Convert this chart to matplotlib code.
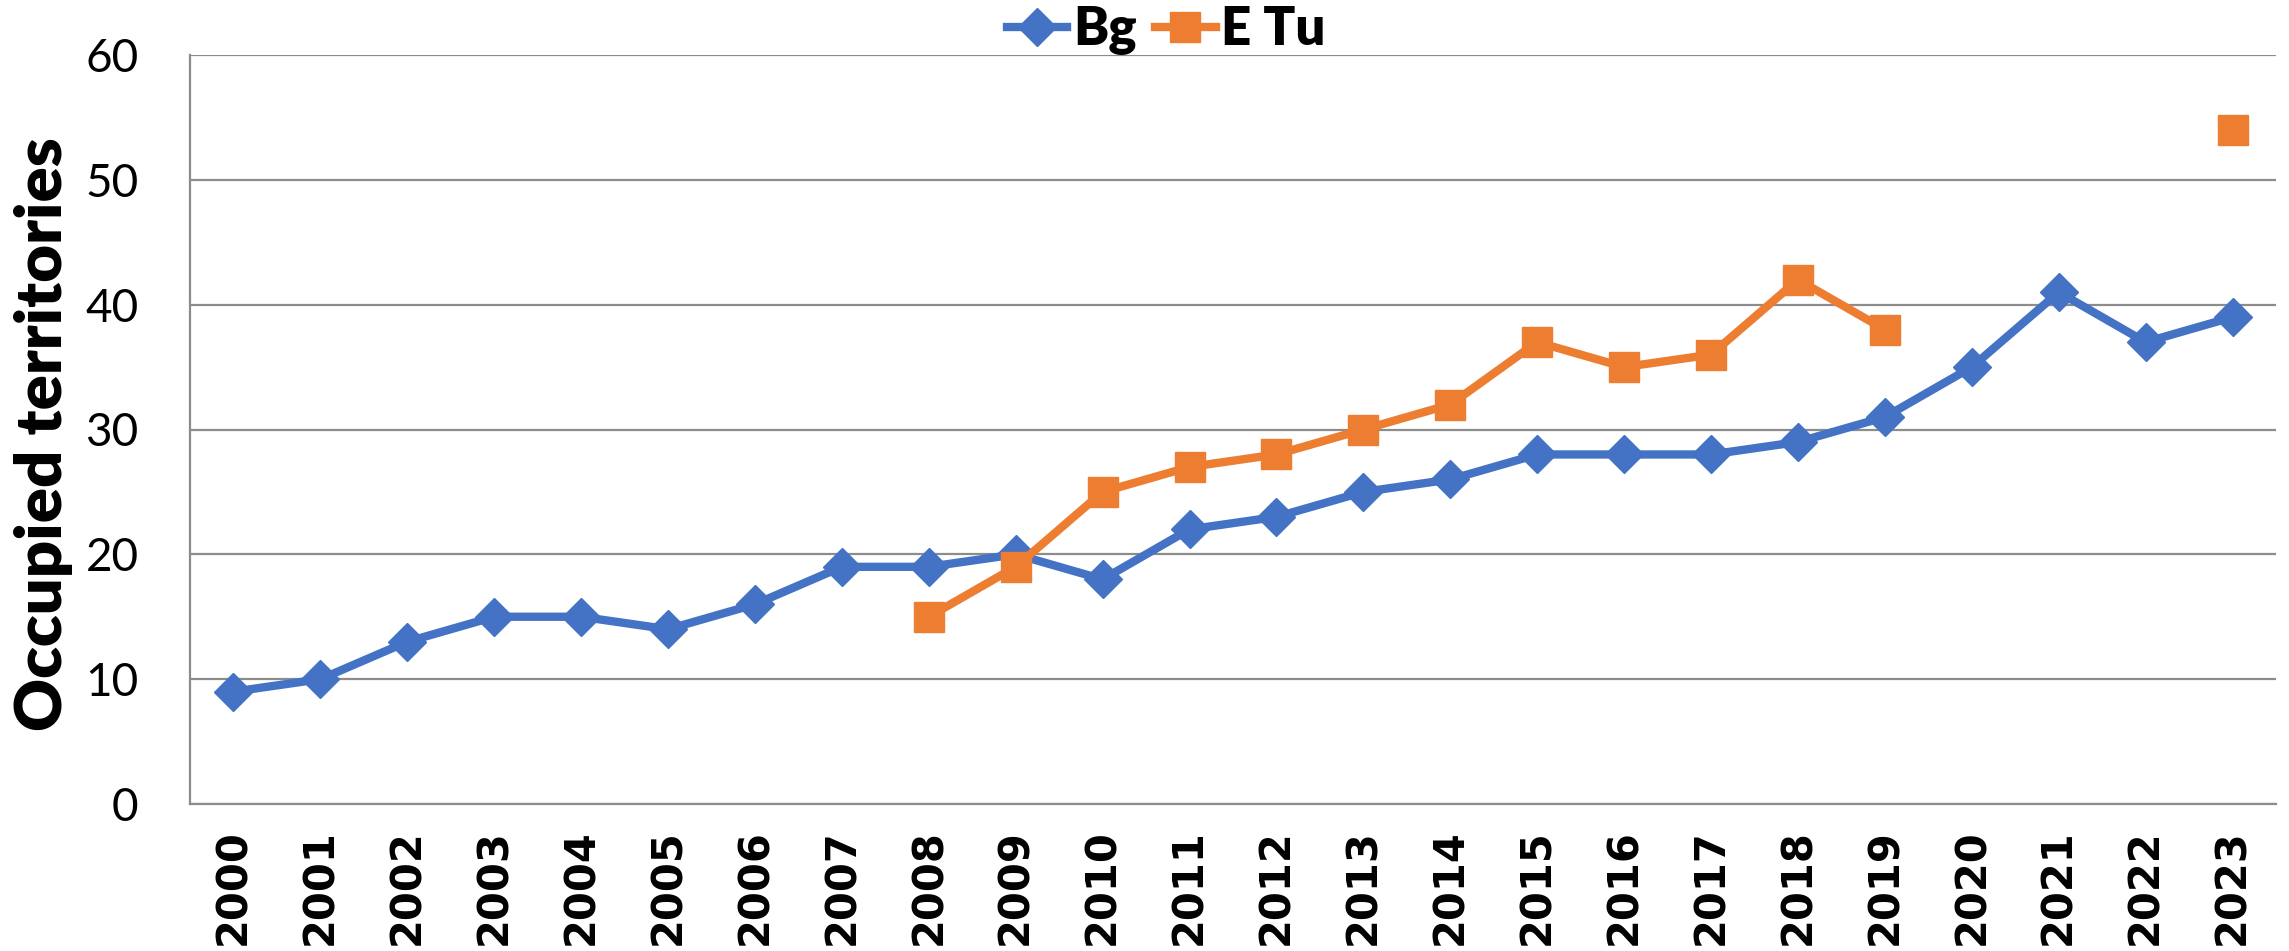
import numpy as np
import matplotlib
matplotlib.use("Agg")
import matplotlib.pyplot as plt

years = [str(y) for y in range(2000, 2024)]
bg = [9, 10, 13, 15, 15, 14, 16, 19, 19, 20, 18, 22, 23, 25, 26, 28, 28, 28, 29, 31, 35, 41, 37, 39]
etu = [np.nan] * 8 + [15, 19, 25, 27, 28, 30, 32, 37, 35, 36, 42, 38, np.nan, np.nan, np.nan, 54]
yticks = [0, 10, 20, 30, 40, 50, 60]
series_names = ["Bg", "E Tu"]
ylabel = "Occupied territories"

W, H = 2289, 951
fig = plt.figure(figsize=(W / 100, H / 100), dpi=100)
L, R, T, B = 190, 2276, 55, 804
ax = fig.add_axes([L / W, 1 - B / H, (R - L) / W, (B - T) / H])

x = np.arange(len(years))
blue = "#4472C4"
orange = "#ED7D31"
ax.plot(x, bg, color=blue, lw=6, marker="D", ms=19, label=series_names[0], zorder=3)
ax.plot(x, etu, color=orange, lw=6, marker="s", ms=22, label=series_names[1], zorder=3)

ax.set_xlim(-0.5, len(years) - 0.5)
ax.set_ylim(0, 60)
ax.set_yticks(yticks)
ax.set_xticks(x)
ax.set_xticklabels(years, rotation=90, fontsize=30, fontweight="bold", family="DejaVu Sans")
ax.set_yticklabels([str(v) for v in yticks], fontsize=33, family="Lato")
ax.tick_params(axis="both", length=0)
ax.tick_params(axis="y", pad=37)
ax.tick_params(axis="x", pad=18)
ax.grid(axis="y", color="#8c8c8c", lw=1.6)
ax.set_axisbelow(True)
for s in ["top", "right"]:
    ax.spines[s].set_visible(False)
for s in ["left", "bottom"]:
    ax.spines[s].set_color("#8c8c8c")
    ax.spines[s].set_linewidth(1.6)

fig.text(44 / W, 1 - 434 / H, ylabel, rotation=90, fontsize=47, fontweight="heavy",
         family="Lato", ha="center", va="center")

leg = fig.legend(loc="center", bbox_to_anchor=(1166 / W, 1 - 30 / H), ncol=2, frameon=False,
                 prop={"family": "Lato", "weight": "heavy", "size": 38},
                 handlelength=1.15, handletextpad=0.1, columnspacing=0.35, borderpad=0)

fig.savefig("out.png", dpi=100)
